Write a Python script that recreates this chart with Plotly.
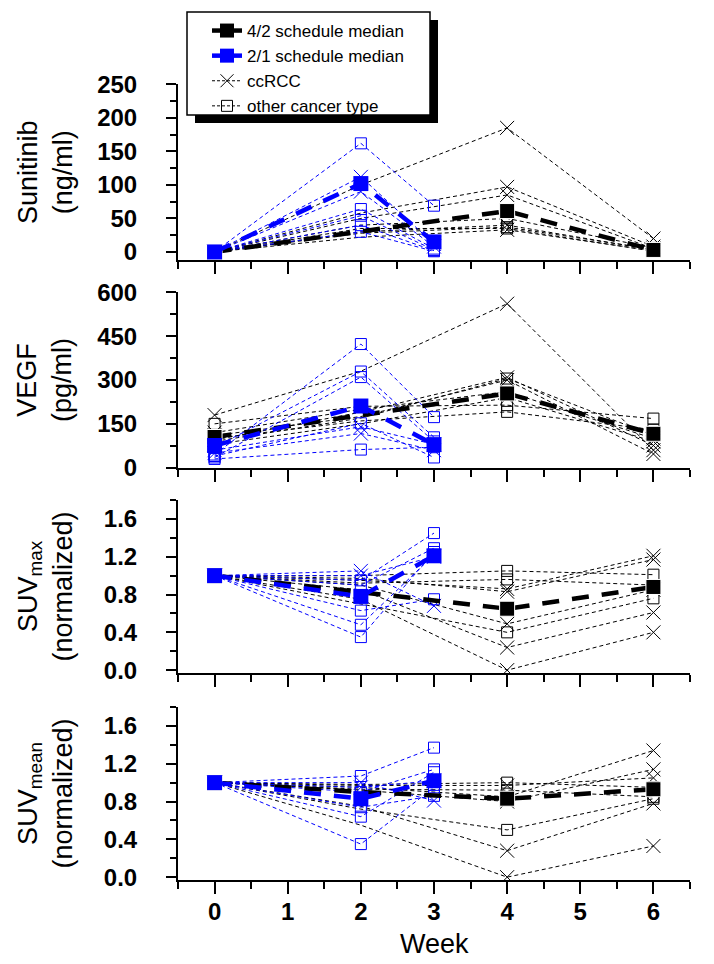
import plotly.graph_objects as go

# ---------------- data ----------------
weeks_42 = [0, 2, 4, 6]          # 4/2 schedule time points
weeks_21 = [0, 2, 3]             # 2/1 schedule time points
types_42 = ["ccRCC", "ccRCC", "ccRCC", "ccRCC", "ccRCC", "other", "other", "other"]
types_21 = ["ccRCC", "ccRCC", "other", "other", "other", "other", "other"]

sunitinib_42 = [
    [0, 100, 185, 20], [0, 58, 97, 8], [0, 50, 85, 5], [0, 30, 40, 3], [0, 22, 33, 2],
    [0, 40, 50, 6], [0, 28, 37, 4], [0, 35, 35, 1]]
sunitinib_21 = [
    [0, 112, 12], [0, 90, 8], [0, 162, 69], [0, 64, 5], [0, 54, 3], [0, 40, 2], [0, 30, 1]]
sunitinib_42_median = [0, 30, 61, 3]
sunitinib_21_median = [0, 102, 15]

vegf_42 = [
    [180, 330, 561, 60], [95, 190, 309, 76], [110, 175, 300, 47], [80, 150, 240, 90],
    [120, 200, 260, 100], [150, 210, 214, 168], [100, 160, 191, 130], [90, 170, 305, 110]]
vegf_21 = [
    [60, 140, 80], [50, 117, 60], [45, 423, 173], [70, 329, 104], [35, 310, 90],
    [40, 152, 35], [30, 62, 70]]
vegf_42_median = [105, 180, 254, 116]
vegf_21_median = [76, 211, 79]

suvmax_42 = [
    [1.0, 0.75, 0.0, 0.40], [1.0, 0.85, 0.24, 0.61], [1.0, 0.90, 0.49, 0.85],
    [1.0, 0.95, 0.86, 1.21], [1.0, 0.97, 0.83, 1.17], [1.0, 1.00, 1.05, 1.01],
    [1.0, 0.92, 0.96, 0.90], [1.0, 0.70, 0.40, 0.76]]
suvmax_21 = [
    [1.0, 1.05, 0.68], [1.0, 1.00, 1.20], [1.0, 0.95, 1.45], [1.0, 0.90, 1.29],
    [1.0, 0.63, 0.75], [1.0, 0.48, 1.22], [1.0, 0.35, 1.25]]
suvmax_42_median = [1.0, 0.82, 0.65, 0.88]
suvmax_21_median = [1.0, 0.78, 1.21]

suvmean_42 = [
    [1.0, 0.55, 0.0, 0.33], [1.0, 0.75, 0.28, 0.78], [1.0, 0.92, 0.80, 1.14],
    [1.0, 0.95, 0.85, 1.34], [1.0, 0.97, 0.97, 1.05], [1.0, 0.98, 1.00, 0.95],
    [1.0, 0.93, 0.92, 0.85], [1.0, 0.72, 0.50, 0.83]]
suvmean_21 = [
    [1.0, 1.00, 0.81], [1.0, 0.95, 1.02], [1.0, 1.07, 1.37], [1.0, 0.90, 1.14],
    [1.0, 0.74, 0.86], [1.0, 0.64, 1.11], [1.0, 0.35, 0.95]]
suvmean_42_median = [1.0, 0.90, 0.83, 0.93]
suvmean_21_median = [1.0, 0.83, 1.02]

y_titles = ["Sunitinib<br>(ng/ml)", "VEGF<br>(pg/ml)",
            "SUV<sub>max</sub><br>(normalized)", "SUV<sub>mean</sub><br>(normalized)"]
x_title = "Week"
legend_labels = ["4/2 schedule median", "2/1 schedule median", "ccRCC", "other cancer type"]

# ---------------- layout helpers ----------------
W, H = 714, 964
L, R, T, B = 178, 690, 84, 880


def px2x(px):
    return (px - L) / (R - L)


def py2y(py):
    return (B - py) / (B - T)


panel_px = [(84, 260), (292, 468), (500, 673), (707, 880)]
y_ranges = [[-12, 250.5], [-1, 601], [-0.03, 1.8], [-0.03, 1.8]]
y_dticks = [50, 150, 0.4, 0.4]

panels = [
    (sunitinib_42, sunitinib_21, sunitinib_42_median, sunitinib_21_median),
    (vegf_42, vegf_21, vegf_42_median, vegf_21_median),
    (suvmax_42, suvmax_21, suvmax_42_median, suvmax_21_median),
    (suvmean_42, suvmean_21, suvmean_42_median, suvmean_21_median),
]

BLACK = "#000000"
BLUE = "#0000ff"
FONT = "Liberation Sans, Arial, sans-serif"

sym = {"ccRCC": "x-thin-open", "other": "square-open"}
sym_size = {"ccRCC": 14, "other": 11}

fig = go.Figure()

# legend-only entries
fig.add_trace(go.Scatter(x=[None], y=[None], mode="lines+markers", name=legend_labels[0],
                         line=dict(color=BLACK, width=4.5),
                         marker=dict(symbol="square", size=14, color=BLACK)))
fig.add_trace(go.Scatter(x=[None], y=[None], mode="lines+markers", name=legend_labels[1],
                         line=dict(color=BLUE, width=4.5),
                         marker=dict(symbol="square", size=14, color=BLUE)))
fig.add_trace(go.Scatter(x=[None], y=[None], mode="lines+markers", name=legend_labels[2],
                         line=dict(color=BLACK, width=1, dash="3px,2px"),
                         marker=dict(symbol="x-thin-open", size=13, color=BLACK,
                                     line=dict(color=BLACK, width=1))))
fig.add_trace(go.Scatter(x=[None], y=[None], mode="lines+markers", name=legend_labels[3],
                         line=dict(color=BLACK, width=1, dash="3px,2px"),
                         marker=dict(symbol="square-open", size=11, color=BLACK,
                                     line=dict(color=BLACK, width=1))))

for i, (p42, p21, m42, m21) in enumerate(panels):
    xa = "x" if i == 0 else f"x{i + 1}"
    ya = "y" if i == 0 else f"y{i + 1}"
    # individual 4/2 patients (no marker at week 2)
    for vals, t in zip(p42, types_42):
        sizes = [0 if w == 2 else sym_size[t] for w in weeks_42]
        fig.add_trace(go.Scatter(x=weeks_42, y=vals, mode="lines+markers", showlegend=False,
                                 xaxis=xa, yaxis=ya, hoverinfo="skip",
                                 line=dict(color=BLACK, width=1, dash="4px,3px"),
                                 marker=dict(symbol=sym[t], size=sizes, color=BLACK, opacity=1,
                                             line=dict(color=BLACK, width=1))))
    # individual 2/1 patients
    for vals, t in zip(p21, types_21):
        fig.add_trace(go.Scatter(x=weeks_21, y=vals, mode="lines+markers", showlegend=False,
                                 xaxis=xa, yaxis=ya, hoverinfo="skip",
                                 line=dict(color=BLUE, width=1, dash="4px,3px"),
                                 marker=dict(symbol=sym[t], size=sym_size[t], color=BLUE,
                                             opacity=1, line=dict(color=BLUE, width=1))))
    # medians
    msizes = [0 if w == 2 else 15 for w in weeks_42]
    fig.add_trace(go.Scatter(x=weeks_42, y=m42, mode="lines+markers", showlegend=False,
                             xaxis=xa, yaxis=ya, hoverinfo="skip",
                             line=dict(color=BLACK, width=4.5, dash="17px,13px"),
                             marker=dict(symbol="square", size=msizes, color=BLACK, opacity=1)))
    fig.add_trace(go.Scatter(x=weeks_21, y=m21, mode="lines+markers", showlegend=False,
                             xaxis=xa, yaxis=ya, hoverinfo="skip",
                             line=dict(color=BLUE, width=4.5, dash="17px,13px"),
                             marker=dict(symbol="square", size=15, color=BLUE, opacity=1)))

layout = dict(
    width=W, height=H,
    margin=dict(l=L, r=W - R, t=T, b=H - B, pad=0),
    paper_bgcolor="white", plot_bgcolor="white",
    font=dict(family=FONT, color="black"),
    showlegend=True,
    legend=dict(x=px2x(207), y=py2y(13), xanchor="left", yanchor="top",
                bgcolor="rgba(0,0,0,0)", borderwidth=0,
                font=dict(family=FONT, size=17, color="black"),
                tracegroupgap=0),
    annotations=[], shapes=[],
)

for i in range(4):
    xk = "xaxis" if i == 0 else f"xaxis{i + 1}"
    yk = "yaxis" if i == 0 else f"yaxis{i + 1}"
    ya = "y" if i == 0 else f"y{i + 1}"
    xa = "x" if i == 0 else f"x{i + 1}"
    top, bot = panel_px[i]
    layout[xk] = dict(
        domain=[0, 1], anchor=ya, range=[-0.5, 6.5],
        tickmode="linear", tick0=0, dtick=1,
        ticks="outside", ticklen=12, tickwidth=2, tickcolor="black",
        showline=True, linewidth=2, linecolor="black",
        showgrid=False, zeroline=False,
        showticklabels=(i == 3),
        tickfont=dict(family=FONT, size=24, color="black", weight="bold"),
        ticklabelstandoff=-3,
        minor=dict(dtick=0.5, tick0=0, ticks="outside", ticklen=7, tickwidth=2,
                   tickcolor="black", showgrid=False),
    )
    layout[yk] = dict(
        domain=[py2y(bot), py2y(top)], anchor=xa, range=y_ranges[i],
        tickmode="linear", tick0=0, dtick=y_dticks[i],
        tickformat=".1f" if i >= 2 else "d",
        ticks="outside", ticklen=10, tickwidth=2, tickcolor="black",
        showline=True, linewidth=2, linecolor="black",
        showgrid=False, zeroline=False,
        tickfont=dict(family=FONT, size=24, color="black", weight="bold"),
        ticklabelstandoff=24,
        minor=dict(dtick=y_dticks[i] / 2, tick0=0, ticks="outside", ticklen=6, tickwidth=2,
                   tickcolor="black", showgrid=False),
    )
    layout["annotations"].append(dict(
        text=y_titles[i], xref="paper", yref="paper",
        x=px2x(45), y=py2y((top + bot) / 2), xanchor="center", yanchor="middle",
        textangle=-90, showarrow=False, align="center",
        font=dict(family=FONT, size=27, color="black")))

layout["annotations"].append(dict(
    text=x_title, xref="paper", yref="paper", x=px2x(434), y=py2y(944),
    xanchor="center", yanchor="middle", showarrow=False,
    font=dict(family=FONT, size=27, color="black")))

# legend box with drop shadow
layout["shapes"].append(dict(type="rect", xref="paper", yref="paper",
                             x0=px2x(195), x1=px2x(438), y0=py2y(123), y1=py2y(20),
                             fillcolor="black", line=dict(width=0), layer="above"))
layout["shapes"].append(dict(type="rect", xref="paper", yref="paper",
                             x0=px2x(187), x1=px2x(430), y0=py2y(115), y1=py2y(12),
                             fillcolor="white", line=dict(color="black", width=1.5),
                             layer="above"))

fig.update_layout(**layout)
fig.write_html("out.html", config={"displayModeBar": False},
               post_script="document.body.style.margin='0';")
